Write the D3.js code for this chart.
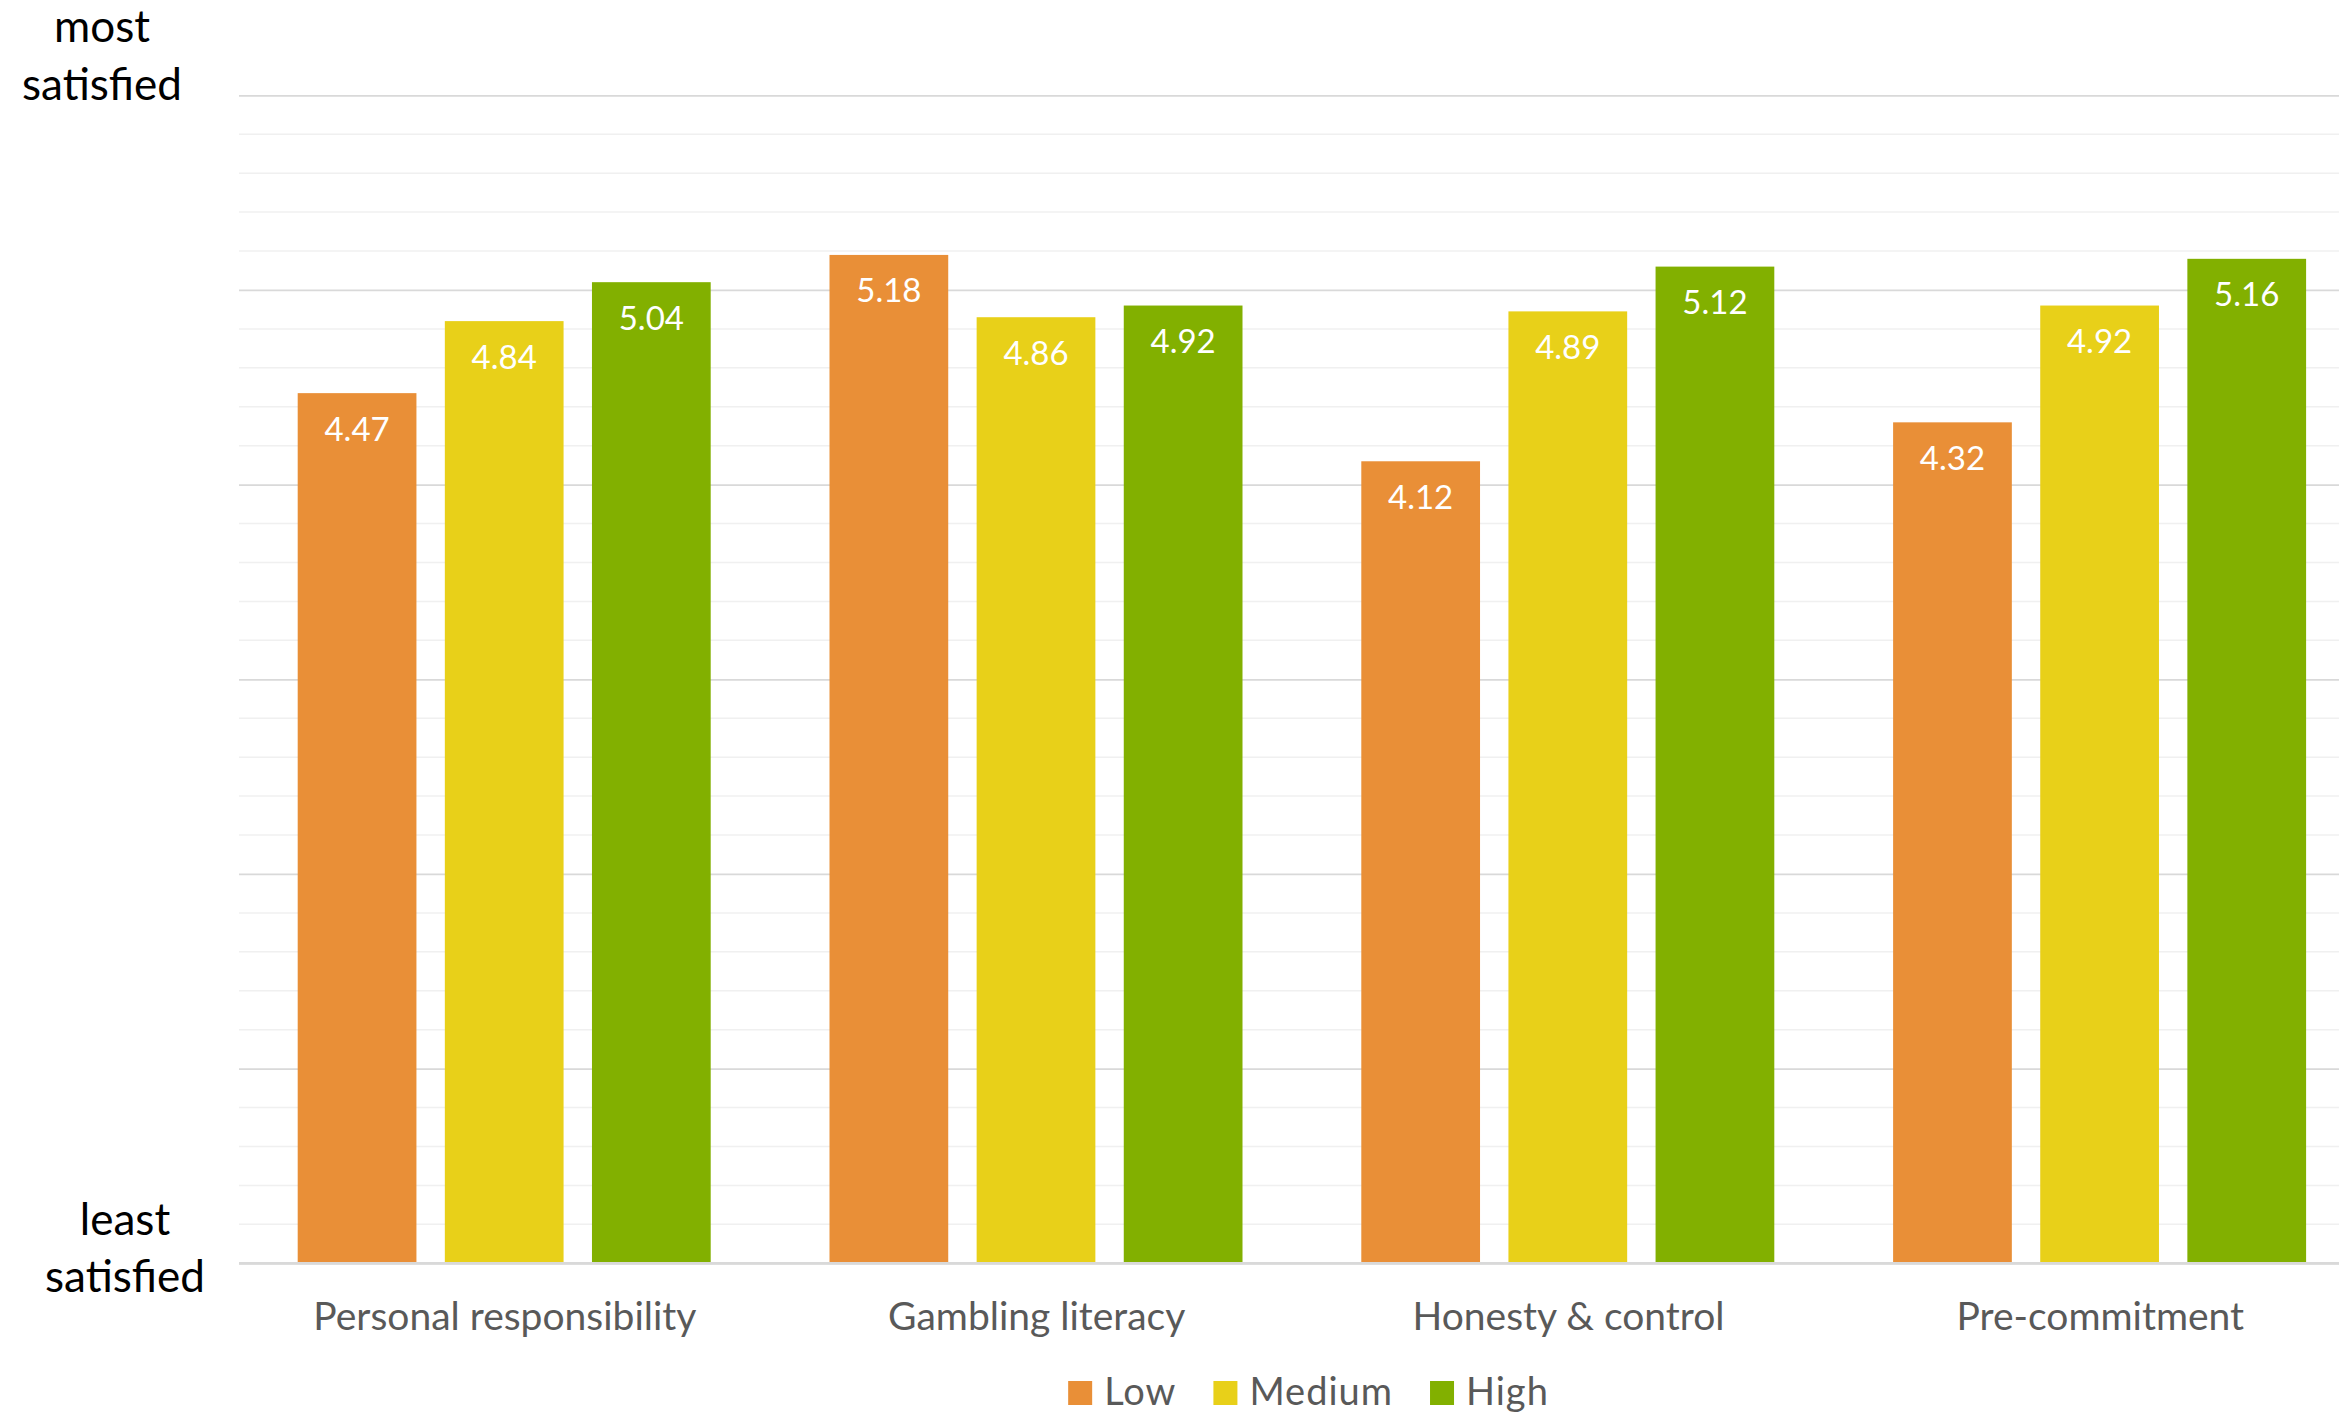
<!DOCTYPE html>
<html>
<head>
<meta charset="utf-8">
<script src="https://cdn.jsdelivr.net/npm/d3@7"></script>
<style>
  html, body { margin: 0; padding: 0; background: #fff; }
  svg { display: block; }
</style>
</head>
<body>
<svg id="chart" width="2339" height="1415"></svg>
<script>
const categories = ["Personal responsibility", "Gambling literacy", "Honesty & control", "Pre-commitment"];
const seriesNames = ["Low", "Medium", "High"];
const lowValues = [4.47, 5.18, 4.12, 4.32];
const mediumValues = [4.84, 4.86, 4.89, 4.92];
const highValues = [5.04, 4.92, 5.12, 5.16];
const seriesColors = ["#E98F37", "#E8D019", "#82B000"];
const yMajorTicks = [0, 1, 2, 3, 4, 5, 6];
const topLabel = ["most", "satisfied"];
const bottomLabel = ["least", "satisfied"];

const seriesValues = [lowValues, mediumValues, highValues];
const FONT = "Lato, 'Open Sans', sans-serif";

const svg = d3.select("#chart");
const plotLeft = 239, plotTop = 95.3, plotBottom = 1263.3;
const bandW = 531.8;

const y = d3.scaleLinear().domain([0, 6]).range([plotBottom, plotTop]);
const x0 = d3.scaleBand().domain(categories).range([plotLeft, plotLeft + bandW * categories.length]);
const x1 = d3.scaleBand().domain(seriesNames).range([58.7, 58.7 + 413]).paddingInner(0.193);

// minor gridlines
const minorTicks = d3.range(0, 30).map(i => i * 0.2).filter(v => Math.abs(v - Math.round(v)) > 1e-6);
svg.append("g").selectAll("line").data(minorTicks).join("line")
  .attr("x1", plotLeft).attr("x2", 2339)
  .attr("y1", d => y(d)).attr("y2", d => y(d))
  .attr("stroke", "#f0f0f0").attr("stroke-width", 1.5);

// major gridlines via axis
const yAxis = d3.axisLeft(y).tickValues(yMajorTicks).tickSize(-(2339 - plotLeft)).tickFormat("");
const gy = svg.append("g").attr("transform", `translate(${plotLeft},0)`).call(yAxis);
gy.select(".domain").remove();
gy.selectAll(".tick line").attr("stroke", "#d9d9d9").attr("stroke-width", 1.8);

// bars
const groups = svg.append("g").selectAll("g").data(categories).join("g")
  .attr("transform", d => `translate(${x0(d)},0)`);

groups.selectAll("rect").data((c, ci) => seriesNames.map((s, si) => ({s, si, v: seriesValues[si][ci]})))
  .join("rect")
  .attr("x", d => x1(d.s))
  .attr("width", x1.bandwidth())
  .attr("y", d => y(d.v))
  .attr("height", d => y(0) - y(d.v))
  .attr("fill", d => seriesColors[d.si]);

groups.selectAll("text").data((c, ci) => seriesNames.map((s, si) => ({s, si, v: seriesValues[si][ci]})))
  .join("text")
  .attr("x", d => x1(d.s) + x1.bandwidth() / 2)
  .attr("y", d => y(d.v) + 47.5)
  .attr("text-anchor", "middle")
  .attr("font-family", FONT)
  .attr("font-size", 33)
  .attr("fill", "#ffffff")
  .text(d => d.v.toFixed(2));

// baseline
svg.append("line")
  .attr("x1", plotLeft).attr("x2", 2339)
  .attr("y1", y(0)).attr("y2", y(0))
  .attr("stroke", "#d9d9d9").attr("stroke-width", 2.5);

// category labels
const xAxis = d3.axisBottom(x0).tickSize(0).tickPadding(0);
const gx = svg.append("g").attr("transform", `translate(0,${y(0)})`).call(xAxis);
gx.select(".domain").remove();
gx.selectAll(".tick text")
  .attr("y", 67).attr("dy", 0)
  .attr("font-family", FONT)
  .attr("font-size", 39)
  .attr("fill", "#595959");

// y-end labels
const tl = svg.append("text").attr("text-anchor", "middle")
  .attr("font-family", FONT).attr("font-size", 44).attr("fill", "#000");
topLabel.forEach((t, i) => tl.append("tspan").attr("x", 102).attr("y", 42 + i * 58).text(t));
const bl = svg.append("text").attr("text-anchor", "middle")
  .attr("font-family", FONT).attr("font-size", 44).attr("fill", "#000");
bottomLabel.forEach((t, i) => bl.append("tspan").attr("x", 125).attr("y", 1235 + i * 57).text(t));

// legend
const legend = svg.append("g");
let lx = 0;
seriesNames.forEach((s, i) => {
  const g = legend.append("g").attr("transform", `translate(${lx},0)`);
  g.append("rect").attr("x", 0).attr("y", -24).attr("width", 24).attr("height", 24).attr("fill", seriesColors[i]);
  const t = g.append("text").attr("x", 36).attr("y", 0)
    .attr("font-family", FONT).attr("font-size", 38).attr("letter-spacing", 1)
    .attr("fill", "#595959").text(s);
  lx += 36 + t.node().getComputedTextLength() + 37;
});
const legendW = lx - 37;
legend.attr("transform", `translate(${1308.5 - legendW / 2},1405)`);
</script>
</body>
</html>
